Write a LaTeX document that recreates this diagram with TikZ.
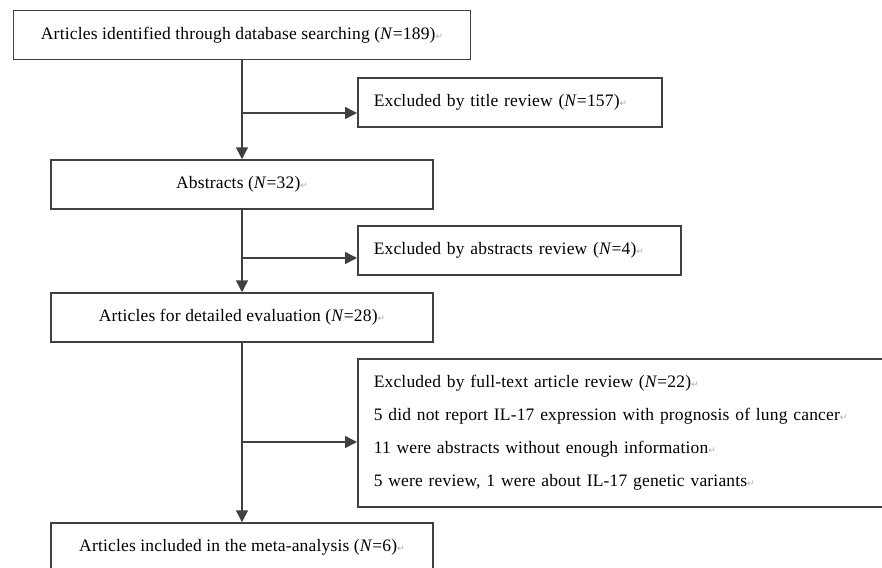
\documentclass[tikz,border=0pt]{standalone}
\usepackage{fontspec}
\setmainfont[LetterSpace=1]{Liberation Serif}
\newfontfamily\symfont{DejaVu Sans}
\usepackage{xcolor}
\definecolor{flowline}{RGB}{64,64,64}
\definecolor{parmark}{RGB}{170,170,170}
\usetikzlibrary{arrows.meta, positioning}
\newcommand{\retmark}{{\symfont\fontsize{9}{9}\selectfont\textcolor{parmark}{↵}}}
\newcommand{\Nn}[1]{(\textit{N}=#1)}

\begin{document}
\begin{tikzpicture}[x=1pt, y=-1pt,
  flowbox/.style={draw=flowline, line width=1.5pt, rectangle, inner sep=0pt,
                  font=\fontsize{17.5}{21}\selectfont, minimum height=49pt},
  exclbox/.style={flowbox, anchor=west, align=left, inner xsep=16pt},
  flowarrow/.style={draw=flowline, line width=1.5pt, -{Triangle[length=12pt,width=12pt]}}]

  \useasboundingbox (0,0) rectangle (882,567);
  \clip (0,0) rectangle (882,567);

  % Main column
  \node[flowbox, minimum width=457pt] (ident) at (242,35)
        {Articles identified through database searching \Nn{189}\retmark};
  \node[flowbox, minimum width=382pt] (abs) at (242,184.5)
        {Abstracts \Nn{32}\retmark};
  \node[flowbox, minimum width=382pt] (eval) at (242,317.5)
        {Articles for detailed evaluation \Nn{28}\retmark};
  \node[flowbox, minimum width=382pt] (incl) at (242,547.5)
        {Articles included in the meta-analysis \Nn{6}\retmark};

  % Exclusion boxes
  \node[exclbox, text width=272pt] (title) at (357,102.5)
        {Excluded by title review \Nn{157}\retmark};
  \node[exclbox, text width=291pt] (absrev) at (357,250.5)
        {Excluded by abstracts review \Nn{4}\retmark};
  \node[exclbox, text width=528pt, minimum height=148pt,
        font=\fontsize{17.5}{33}\selectfont] (full) at (357,433)
        {Excluded by full-text article review \Nn{22}\retmark\\
         5 did not report IL-17 expression with prognosis of lung cancer\retmark\\
         11 were abstracts without enough information\retmark\\
         5 were review, 1 were about IL-17 genetic variants\retmark};

  % Branch points
  \coordinate (b1) at (242,113);
  \coordinate (b2) at (242,258);
  \coordinate (b3) at (242,442);

  % Connectors
  \draw[flowarrow] (ident.south) -- (abs.north);
  \draw[flowarrow] (abs.south) -- (eval.north);
  \draw[flowarrow] (eval.south) -- (incl.north);
  \draw[flowarrow] (b1) -- (b1 -| title.west);
  \draw[flowarrow] (b2) -- (b2 -| absrev.west);
  \draw[flowarrow] (b3) -- (b3 -| full.west);

\end{tikzpicture}
\end{document}
